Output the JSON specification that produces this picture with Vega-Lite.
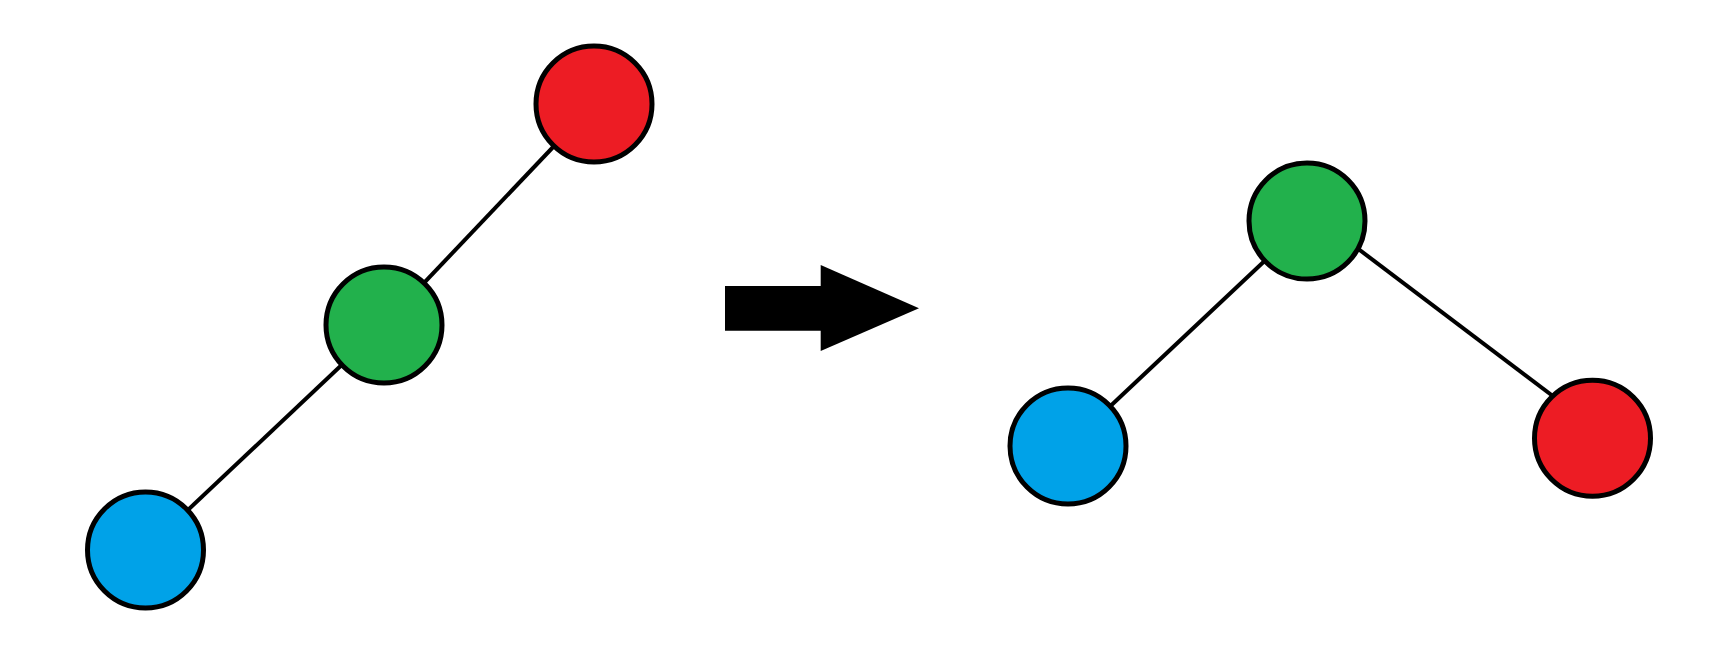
{
  "$schema": "https://vega.github.io/schema/vega-lite/v6.json",
  "width": 1736,
  "height": 650,
  "autosize": {"type": "fit", "contains": "padding"},
  "padding": 0,
  "background": "white",
  "config": {"view": {"stroke": null}},
  "datasets": {
    "edges": [
      {"tree": "before", "x": 594, "y": 104, "x2": 384, "y2": 325},
      {"tree": "before", "x": 384, "y": 325, "x2": 145.5, "y2": 550},
      {"tree": "after", "x": 1307, "y": 221, "x2": 1068, "y2": 446},
      {"tree": "after", "x": 1320, "y": 220, "x2": 1578, "y2": 415}
    ],
    "arrow": [
      {"part": "shaft", "x": 725, "y": 286, "y2": 330.7},
      {"part": "shaft", "x": 821, "y": 286, "y2": 330.7},
      {"part": "head", "x": 820.7, "y": 265, "y2": 351},
      {"part": "head", "x": 919, "y": 308.3, "y2": 308.3}
    ],
    "nodes": [
      {"tree": "before", "node": "red", "x": 594, "y": 104},
      {"tree": "before", "node": "green", "x": 384, "y": 325},
      {"tree": "before", "node": "blue", "x": 145.5, "y": 550},
      {"tree": "after", "node": "green", "x": 1307, "y": 221},
      {"tree": "after", "node": "blue", "x": 1068, "y": 446},
      {"tree": "after", "node": "red", "x": 1592.5, "y": 438.3}
    ]
  },
  "layer": [
    {
      "data": {"name": "edges"},
      "mark": {"type": "rule", "color": "black", "strokeWidth": 4},
      "encoding": {
        "x": {"field": "x", "type": "quantitative", "scale": {"domain": [0, 1736], "nice": false, "zero": false}, "axis": null},
        "y": {"field": "y", "type": "quantitative", "scale": {"domain": [0, 650], "nice": false, "zero": false, "reverse": true}, "axis": null},
        "x2": {"field": "x2"},
        "y2": {"field": "y2"}
      }
    },
    {
      "data": {"name": "arrow"},
      "mark": {"type": "area", "color": "black", "opacity": 1},
      "encoding": {
        "x": {"field": "x", "type": "quantitative"},
        "y": {"field": "y", "type": "quantitative"},
        "y2": {"field": "y2"},
        "detail": {"field": "part"}
      }
    },
    {
      "data": {"name": "nodes"},
      "mark": {"type": "point", "shape": "circle", "filled": true, "opacity": 1, "stroke": "black", "strokeWidth": 5, "size": 13456},
      "encoding": {
        "x": {"field": "x", "type": "quantitative"},
        "y": {"field": "y", "type": "quantitative"},
        "fill": {
          "field": "node",
          "type": "nominal",
          "scale": {"domain": ["red", "green", "blue"], "range": ["#ED1C24", "#22B14C", "#00A2E8"]},
          "legend": null
        }
      }
    }
  ]
}
